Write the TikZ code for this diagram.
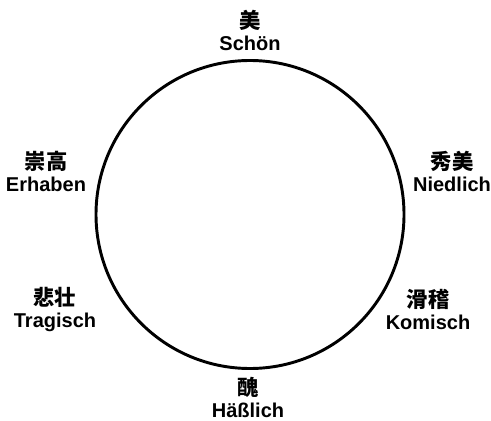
\documentclass[tikz,border=0pt]{standalone}
\usepackage{fontspec}
\setmainfont{Liberation Sans}
\newfontfamily\cjk{Noto Sans CJK JP}
\usetikzlibrary{positioning}
\newcommand\kanji[1]{{\cjk\bfseries\fontsize{16}{16}\selectfont #1}}

\begin{document}
\begin{tikzpicture}[
  x=0.75pt,y=-0.75pt,%
  every node/.style={align=center,inner sep=0pt},%
  wheel/.style={circle,draw,line width=2.2pt,minimum size=231pt},%
  l/.style={font=\bfseries\fontsize{15}{16.5}\selectfont},%
  ]

  \useasboundingbox (0,0) rectangle (491,420);

  \node (circle) [wheel] at (250,214.5) {};

  \node (schoen) [l] at (250,30) {\kanji{美}\\Schön};
  \node (erhaben) [l] at (46,171) {\kanji{崇高}\\Erhaben};
  \node (niedlich) [l] at (452,171) {\kanji{秀美}\\Niedlich};
  \node (tragisch) [l] at (55,309) {\kanji{悲壮}\\Tragisch};
  \node (komisch) [l] at (428,309) {\kanji{滑稽}\\Komisch};
  \node (haesslich) [l] at (248,397) {\kanji{醜}\\Häßlich};
\end{tikzpicture}
\end{document}
